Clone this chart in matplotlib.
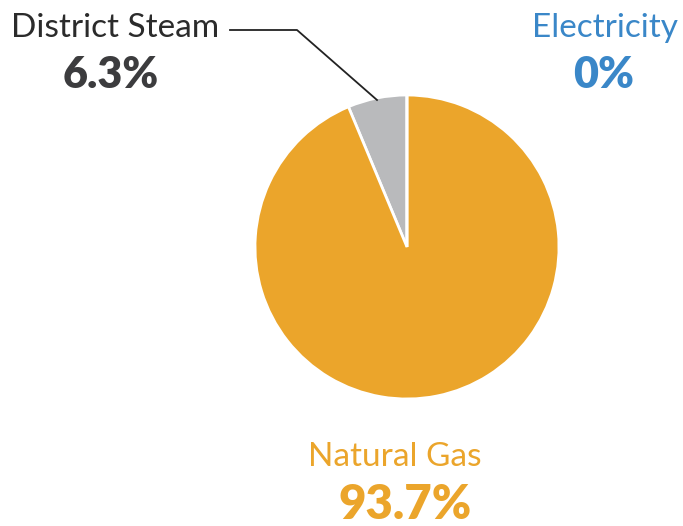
import matplotlib
matplotlib.use('Agg')
import matplotlib.pyplot as plt

# Dados do grafico
fontes = ['District Steam', 'Natural Gas', 'Electricity']
valores = [6.3, 93.7, 0.0]
cores = ['#b9babc', '#eba52b', '#3a87c8']

fig = plt.figure(figsize=(6.83, 5.26), dpi=100)
fig.patch.set_facecolor('white')

# Eixo da pizza (centro ~ (407, 247) px, raio ~152 px)
cx, cy, r = 407 / 683, 1 - 247 / 526, 152
ax = fig.add_axes([cx - r / 683, cy - r / 526, 2 * r / 683, 2 * r / 526])
ax.pie(valores, colors=cores, startangle=90, counterclock=True,
       wedgeprops={'edgecolor': 'white', 'linewidth': 2})
ax.set_xlim(-1, 1)
ax.set_ylim(-1, 1)
ax.axis('off')

fonte = 'Lato'

# Rotulos
fig.text(115 / 683, 1 - 28 / 526, fontes[0], ha='center', va='center',
         fontsize=24, family=fonte, fontweight='normal', color='#2b2b2b')
fig.text(111 / 683, 1 - 75 / 526, '%.1f%%' % valores[0], ha='center', va='center',
         fontsize=31, family=fonte, fontweight='heavy', color='#3c3c3e')

fig.text(605 / 683, 1 - 28 / 526, fontes[2], ha='center', va='center',
         fontsize=24, family=fonte, fontweight='normal', color='#3a87c8')
fig.text(604 / 683, 1 - 75 / 526, '%d%%' % valores[2], ha='center', va='center',
         fontsize=31, family=fonte, fontweight='heavy', color='#3a87c8')

fig.text(395 / 683, 1 - 457 / 526, fontes[1], ha='center', va='center',
         fontsize=24, family=fonte, fontweight='normal', color='#eba52b')
fig.text(405 / 683, 1 - 505 / 526, '%.1f%%' % valores[1], ha='center', va='center',
         fontsize=34, family=fonte, fontweight='heavy', color='#eba52b')

# Linha de chamada
xs = [230 / 683, 297 / 683, 377 / 683]
ys = [1 - 30 / 526, 1 - 30 / 526, 1 - 100 / 526]
fig.add_artist(plt.Line2D(xs, ys, color='#222222', linewidth=1.3,
                          transform=fig.transFigure))

fig.savefig('out.png', dpi=100)
